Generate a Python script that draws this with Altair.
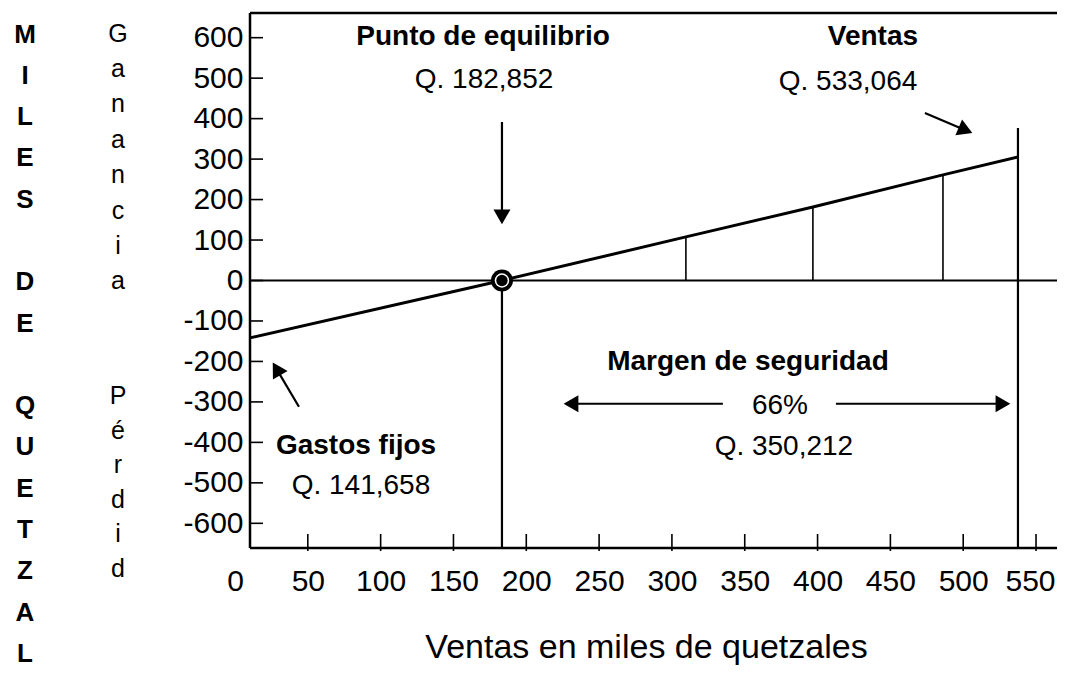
import altair as alt
import pandas as pd

FONT = "Liberation Sans"

# ---- axis ticks (thousands of quetzales) ----
x_tick_values = [0, 50, 100, 150, 200, 250, 300, 350, 400, 450, 500, 550]
y_tick_values = [600, 500, 400, 300, 200, 100, 0, -100, -200, -300, -400, -500, -600]

# ---- scale / frame extents ----
x_min, x_max = 0, 564.4
frame_left = 10.3
y_min, y_max = -661, 661

# ---- profit line ----
line_x = [10.3, 183.3, 309.6, 396.8, 486.1, 537.6]
line_y = [-141.8, 0.0, 107.7, 181.8, 260.9, 305.0]

break_even_x = 183.3
sales_x = 537.6
sales_top = 376.7

# ---- arrows ----
arrow_x1 = [183.3, 473.7, 43.9, 335.0, 412.6]
arrow_y1 = [391.6, 413.8, -312.0, -304.6, -304.6]
arrow_x2 = [183.3, 501.6, 28.5, 230.7, 527.3]
arrow_y2 = [157.2, 371.3, -218.4, -304.6, -304.6]
arrow_angle = [180, 113, 329.4, 270, 90]

# ---- annotations ----
bold_text = ["Punto de equilibrio", "Ventas", "Gastos fijos", "Margen de seguridad"]
bold_x = [170.3, 438.0, 83.1, 352.2]
bold_y = [601.8, 601.8, -408.6, -201.1]
reg_text = ["Q. 182,852", "Q. 533,064", "Q. 141,658", "66%", "Q. 350,212"]
reg_x = [171.0, 420.9, 86.5, 374.2, 376.9]
reg_y = [495.6, 490.6, -507.4, -309.8, -411.1]

# left-hand vertical captions (one letter per line)
miles_words = [["M", "I", "L", "E", "S"], ["D", "E"], ["Q", "U", "E", "T", "Z", "A", "L", "E", "S"]]
miles_rows = [0, 6, 9]
col_ganancia = ["G", "a", "n", "a", "n", "c", "i", "a"]
col_perdida = ["P", "é", "r", "d", "i", "d"]

xs = alt.Scale(domain=[x_min, x_max], nice=False, zero=False)
ys = alt.Scale(domain=[y_min, y_max], nice=False, zero=False)

x_axis = alt.Axis(
    values=x_tick_values, domain=False, ticks=False, tickSize=0, grid=False,
    labelFont=FONT, labelFontSize=30, labelColor="black", labelPadding=18,
    labelFlush=False, labelOverlap=False, labelExpr="datum.value + ''",
    labelOffset={"condition": {"test": "datum.value === 550", "value": -6}, "value": 0},
    title="Ventas en miles de quetzales", titleFont=FONT, titleFontSize=34,
    titleFontWeight="normal", titleColor="black", titlePadding=34,
)
y_axis = alt.Axis(
    values=y_tick_values, domain=False, ticks=False, tickSize=0, grid=False,
    labelFont=FONT, labelFontSize=30, labelColor="black", labelPadding=7,
    labelOverlap=False, labelExpr="datum.value + ''", offset=-15,
)


def X(f):
    return alt.X(f, type="quantitative", scale=xs, axis=x_axis)


def Y(f):
    return alt.Y(f, type="quantitative", scale=ys, axis=y_axis, title=None)


# frame (left, top, bottom)
frame_df = pd.DataFrame({
    "x": [frame_left, frame_left, frame_left],
    "x2": [frame_left, x_max, x_max],
    "y": [y_min, y_max, y_min],
    "y2": [y_max, y_max, y_min],
})
frame = alt.Chart(frame_df).mark_rule(color="black", strokeWidth=2.5).encode(
    x=X("x"), x2="x2", y=Y("y"), y2="y2"
)

# zero line
zero_df = pd.DataFrame({"x": [frame_left], "x2": [x_max], "y": [0.0]})
zero = alt.Chart(zero_df).mark_rule(color="black", strokeWidth=2.2).encode(
    x=X("x"), x2="x2", y=Y("y")
)

# inward ticks
xt_df = pd.DataFrame({"x": x_tick_values[1:], "y": [y_min] * (len(x_tick_values) - 1)})
xticks = alt.Chart(xt_df).mark_rule(color="black", strokeWidth=1.6, yOffset=3, y2Offset=-14).encode(
    x=X("x"), y=Y("y"), y2="y"
)
yt_df = pd.DataFrame({"y": y_tick_values, "x": [frame_left] * len(y_tick_values)})
yticks = alt.Chart(yt_df).mark_rule(color="black", strokeWidth=1.6, x2Offset=13).encode(
    x=X("x"), x2="x", y=Y("y")
)

# big verticals (break-even and sales)
bigv_df = pd.DataFrame({
    "x": [break_even_x, sales_x],
    "y": [0.0, sales_top],
    "y2": [y_min, y_min],
})
bigv = alt.Chart(bigv_df).mark_rule(color="black", strokeWidth=2.2).encode(
    x=X("x"), y=Y("y"), y2="y2"
)

# small verticals from zero to the line
smallv_df = pd.DataFrame({"x": line_x[2:5], "y": line_y[2:5], "y2": [0.0] * 3})
smallv = alt.Chart(smallv_df).mark_rule(color="black", strokeWidth=1.6).encode(
    x=X("x"), y=Y("y"), y2="y2"
)

# profit line
line_df = pd.DataFrame({"x": line_x, "y": line_y})
pline = alt.Chart(line_df).mark_line(color="black", strokeWidth=3).encode(
    x=X("x"), y=Y("y")
)

# break-even bullseye
be_df = pd.DataFrame({"x": [break_even_x], "y": [0.0]})
be1 = alt.Chart(be_df).mark_point(shape="circle", filled=True, color="black", size=484, opacity=1).encode(
    x=X("x"), y=Y("y"))
be2 = alt.Chart(be_df).mark_point(shape="circle", filled=True, color="white", size=210, opacity=1).encode(
    x=X("x"), y=Y("y"))
be3 = alt.Chart(be_df).mark_point(shape="circle", filled=True, color="black", size=130, opacity=1).encode(
    x=X("x"), y=Y("y"))

# arrows
arr_df = pd.DataFrame({"x": arrow_x1, "y": arrow_y1, "x2": arrow_x2, "y2": arrow_y2, "a": arrow_angle})
shafts = alt.Chart(arr_df).mark_rule(color="black", strokeWidth=2.2).encode(
    x=X("x"), y=Y("y"), x2="x2", y2="y2"
)
heads = alt.Chart(arr_df).mark_point(shape="triangle-up", filled=True, color="black", size=290, opacity=1).encode(
    x=X("x2"), y=Y("y2"), angle=alt.Angle("a:Q", scale=None)
)

# annotations
bold_df = pd.DataFrame({"t": bold_text, "x": bold_x, "y": bold_y})
bold = alt.Chart(bold_df).mark_text(font=FONT, fontSize=28, fontWeight="bold", color="black",
                                    align="center", baseline="middle").encode(
    x=X("x"), y=Y("y"), text="t:N")
reg_df = pd.DataFrame({"t": reg_text, "x": reg_x, "y": reg_y})
reg = alt.Chart(reg_df).mark_text(font=FONT, fontSize=28, color="black",
                                  align="center", baseline="middle").encode(
    x=X("x"), y=Y("y"), text="t:N")


# stacked vertical letters on the left
def column(letters, px, py, lh, size, weight):
    df = pd.DataFrame({"t": ["\n".join(letters)]})
    return alt.Chart(df).mark_text(font=FONT, fontSize=size, fontWeight=weight, color="black",
                                   align="center", baseline="top", lineBreak="\n",
                                   lineHeight=lh).encode(
        x=alt.value(px), y=alt.value(py), text="t:N")


MILES_LH = 41.3
miles_cols = [column(w, -210, 8.5 + r * MILES_LH, MILES_LH, 26, "bold")
              for w, r in zip(miles_words, miles_rows)]
c2 = column(col_ganancia, -117, 8.5, 35.4, 25, "normal")
c3 = column(col_perdida, -117, 371, 34.6, 25, "normal")

chart = alt.layer(
    frame, zero, xticks, yticks, bigv, smallv, pline, be1, be2, be3,
    shafts, heads, bold, reg, *miles_cols, c2, c3
).properties(
    width=822, height=535,
    padding={"left": 227, "top": 5, "right": 0, "bottom": 121},
    autosize=alt.AutoSizeParams(type="none"),
    background="white",
).configure_view(strokeWidth=0)

chart.save("out.html", embed_options={"renderer": "svg", "actions": False})
